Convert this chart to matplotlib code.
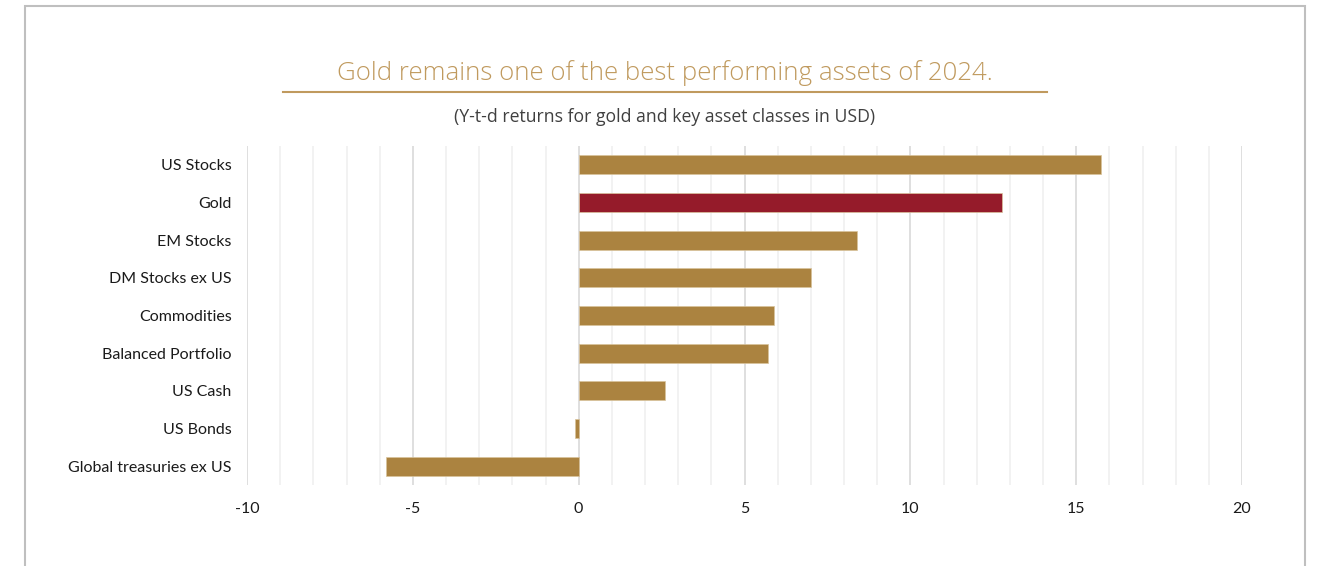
import matplotlib
matplotlib.use("Agg")
import matplotlib.pyplot as plt
from matplotlib.patches import Rectangle
from matplotlib.lines import Line2D
from matplotlib.ticker import MultipleLocator

plt.rcParams["axes.unicode_minus"] = False

categories = ["US Stocks", "Gold", "EM Stocks", "DM Stocks ex US", "Commodities",
              "Balanced Portfolio", "US Cash", "US Bonds", "Global treasuries ex US"]
values = [15.75, 12.75, 8.38, 7.0, 5.9, 5.7, 2.6, -0.1, -5.8]
highlight = "Gold"
xticks = [-10, -5, 0, 5, 10, 15, 20]

GOLD = "#ab8340"
RED = "#951b2a"
TITLE_C = "#c09a5e"

fig = plt.figure(figsize=(13.22, 5.66), dpi=100)
fig.patch.set_facecolor("white")

# outer border
fig.add_artist(Rectangle((25/1322, -0.05), (1305-25)/1322, 1.05 - 6/566, transform=fig.transFigure,
                         fill=False, edgecolor="#bfbfbf", linewidth=1.5))

ax = fig.add_axes([247/1322, 1-485/566, (1242-247)/1322, (485-146)/566])
y = list(range(len(categories)))
colors = [RED if c == highlight else GOLD for c in categories]
ax.barh(y, values, height=0.5, color=colors, edgecolor="#d9c39c", linewidth=0.5, zorder=3)
ax.set_ylim(len(categories) - 0.5, -0.5)
ax.set_xlim(-10, 20)
ax.set_xticks(xticks)
ax.xaxis.set_minor_locator(MultipleLocator(1))
ax.grid(axis="x", which="minor", color="#f0f0f0", linewidth=1.2, zorder=0)
ax.grid(axis="x", which="major", color="#d9d9d9", linewidth=1.2, zorder=0)
ax.tick_params(axis="both", which="both", length=0)
ax.tick_params(axis="x", pad=12)
ax.tick_params(axis="y", pad=11)
ax.set_yticks(y)
ax.set_yticklabels(categories, fontsize=11.5, family="Lato", color="#1a1a1a")
for lab in ax.get_xticklabels():
    lab.set_fontsize(11.5)
    lab.set_family("Lato")
    lab.set_color("#1a1a1a")
for s in ax.spines.values():
    s.set_visible(False)

fig.text(665/1322, 1-73/566, "Gold remains one of the best performing assets of 2024.",
         ha="center", va="center", fontsize=18.6, family="Open Sans", weight="light", color=TITLE_C)
fig.add_artist(Line2D([283/1322, 1047/1322], [1-92/566, 1-92/566], transform=fig.transFigure,
                      color="#c09a5e", linewidth=1.5))
fig.text(665/1322, 1-117/566, "(Y-t-d returns for gold and key asset classes in USD)",
         ha="center", va="center", fontsize=12.7, family="Open Sans", color="#404040")

fig.savefig("out.png", dpi=100, facecolor="white")
